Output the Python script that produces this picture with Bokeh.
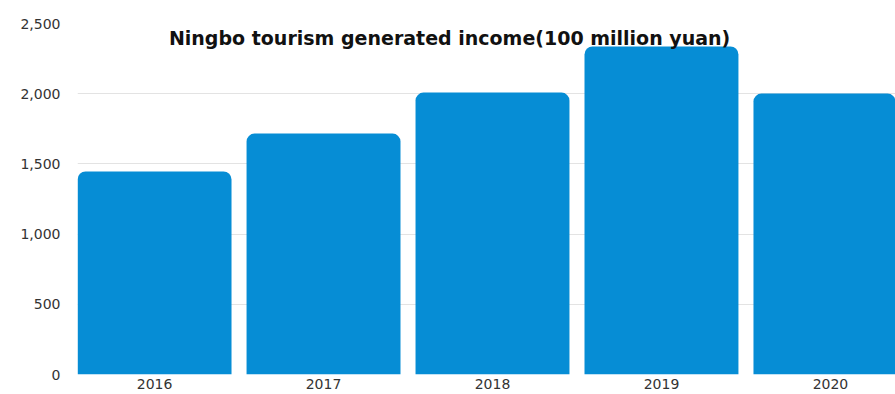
from bokeh.plotting import figure
from bokeh.models import Range1d, FixedTicker, NumeralTickFormatter, Label
from bokeh.embed import file_html
from bokeh.resources import INLINE

years = ["2016", "2017", "2018", "2019", "2020"]
income = [1446, 1716, 2008, 2336, 2001]
title_text = "Ningbo tourism generated income(100 million yuan)"

xs = list(range(len(years)))

p = figure(width=895, height=394, output_backend="svg", toolbar_location=None,
           x_range=Range1d(-0.456, 4.385), y_range=Range1d(0, 2500),
           min_border_left=77, min_border_right=0, min_border_top=23, min_border_bottom=20)
p.outline_line_color = None
p.background_fill_color = "white"
p.border_fill_color = "white"

p.vbar(x=xs, top=income, width=0.911, bottom=0, fill_color="#068DD5", line_color=None,
       border_radius=(8, 8, 0, 0))

p.xaxis.ticker = FixedTicker(ticks=xs)
p.xaxis.major_label_overrides = {i: y for i, y in enumerate(years)}
p.xaxis.axis_line_color = None
p.xaxis.major_tick_line_color = None
p.xaxis.major_tick_out = 0
p.xaxis.major_tick_in = 0
p.xaxis.minor_tick_line_color = None
p.xaxis.major_label_text_font = "DejaVu Sans"
p.xaxis.major_label_text_font_size = "14px"
p.xaxis.major_label_text_color = "#333333"
p.xaxis.major_label_standoff = 4
p.xgrid.grid_line_color = None

p.yaxis.ticker = FixedTicker(ticks=[0, 500, 1000, 1500, 2000, 2500])
p.yaxis.formatter = NumeralTickFormatter(format="0,0")
p.yaxis.axis_line_color = None
p.yaxis.major_tick_line_color = None
p.yaxis.major_tick_out = 0
p.yaxis.major_tick_in = 0
p.yaxis.minor_tick_line_color = None
p.yaxis.major_label_text_font = "DejaVu Sans"
p.yaxis.major_label_text_font_size = "14px"
p.yaxis.major_label_text_color = "#333333"
p.yaxis.major_label_standoff = 17
p.ygrid.grid_line_color = "#e3e3e3"
p.ygrid.grid_line_width = 1

p.add_layout(Label(x=1.746, y=2400, text=title_text, text_align="center",
                   text_baseline="middle", text_font="DejaVu Sans", text_font_size="19px",
                   text_font_style="bold", text_color="#111111"))

open("out.html", "w").write(file_html(p, INLINE))
